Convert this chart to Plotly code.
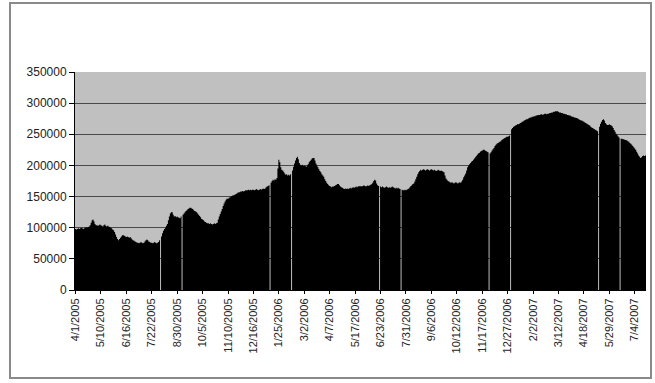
import plotly.graph_objects as go

# Tick labels (every 26th trading day)
tick_labels = ["4/1/2005", "5/10/2005", "6/16/2005", "7/22/2005", "8/30/2005",
               "10/5/2005", "11/10/2005", "12/16/2005", "1/25/2006", "3/2/2006",
               "4/7/2006", "5/17/2006", "6/23/2006", "7/31/2006", "9/6/2006",
               "10/12/2006", "11/17/2006", "12/27/2006", "2/2/2007", "3/12/2007",
               "4/18/2007", "5/29/2007", "7/4/2007"]
label_step = 26

# Daily values, in thousands (one row per label interval)
values_k = [
    98, 97, 98, 99, 98, 99, 100, 99, 98, 99, 100, 101, 100, 101, 102, 104, 108, 112, 113, 110, 106, 104, 104, 103, 104, 105,
    104, 103, 102, 104, 105, 103, 102, 103, 102, 101, 100, 99, 97, 96, 93, 89, 85, 82, 80, 82, 84, 86, 88, 88, 87, 86,
    85, 86, 85, 84, 85, 83, 81, 80, 79, 78, 77, 76, 76, 75, 76, 77, 76, 75, 76, 78, 80, 81, 80, 78, 77, 76,
    76, 75, 76, 77, 76, 75, 76, 77, 80, 0, 86, 91, 95, 98, 100, 103, 106, 112, 118, 123, 125, 125, 121, 118, 119, 117,
    118, 117, 116, 115, 118, 0, 121, 123, 125, 127, 128, 130, 131, 132, 132, 131, 130, 128, 127, 126, 125, 123, 121, 119, 117, 114,
    113, 112, 110, 109, 108, 107, 107, 106, 107, 106, 105, 106, 107, 106, 107, 108, 113, 118, 122, 126, 130, 135, 139, 142, 145, 147,
    146, 148, 149, 150, 151, 152, 152, 153, 154, 155, 156, 157, 157, 158, 158, 159, 158, 159, 160, 160, 160, 161, 160, 161, 160, 161,
    161, 160, 161, 162, 161, 160, 161, 162, 161, 162, 163, 162, 163, 165, 166, 167, 168, 0, 172, 175, 177, 176, 178, 177, 180, 195,
    209, 205, 197, 193, 192, 190, 187, 185, 186, 184, 185, 184, 186, 0, 192, 198, 203, 208, 212, 214, 210, 204, 201, 200, 201, 199,
    200, 199, 198, 200, 202, 205, 207, 209, 211, 212, 212, 208, 203, 200, 197, 194, 191, 189, 186, 184, 182, 178, 175, 172, 170, 168,
    167, 166, 165, 166, 166, 167, 168, 169, 170, 170, 168, 166, 165, 164, 163, 162, 163, 162, 163, 162, 163, 164, 163, 164, 165, 164,
    165, 166, 165, 166, 167, 166, 167, 166, 167, 168, 167, 166, 167, 168, 167, 168, 169, 170, 172, 175, 177, 176, 171, 168, 167, 0,
    166, 165, 166, 165, 164, 165, 166, 165, 164, 165, 164, 165, 166, 165, 164, 163, 164, 163, 164, 163, 162, 0, 161, 160, 160, 161,
    160, 161, 162, 163, 165, 167, 168, 170, 171, 174, 178, 182, 186, 189, 191, 193, 192, 193, 194, 193, 192, 193, 194, 193, 192, 193,
    194, 193, 192, 193, 192, 191, 192, 193, 192, 191, 192, 191, 190, 189, 184, 179, 177, 175, 174, 173, 172, 173, 172, 171, 172, 173,
    172, 171, 172, 173, 172, 174, 177, 181, 184, 187, 192, 197, 200, 202, 204, 206, 207, 209, 211, 213, 215, 217, 219, 220, 222, 223,
    224, 225, 225, 224, 223, 222, 221, 0, 219, 221, 224, 226, 228, 231, 233, 235, 236, 237, 238, 239, 241, 242, 243, 244, 245, 246,
    246, 247, 248, 0, 258, 260, 262, 263, 264, 265, 266, 266, 267, 268, 269, 270, 271, 272, 273, 274, 274, 275, 276, 277, 277, 278,
    278, 279, 279, 280, 280, 281, 281, 281, 282, 282, 281, 282, 283, 283, 282, 283, 283, 284, 284, 285, 285, 286, 286, 287, 287, 287,
    286, 285, 285, 284, 284, 283, 283, 282, 282, 281, 281, 280, 280, 279, 278, 278, 277, 277, 276, 276, 275, 274, 273, 272, 272, 271,
    270, 269, 268, 267, 266, 265, 264, 262, 261, 260, 259, 258, 257, 256, 255, 0, 262, 267, 270, 273, 274, 272, 268, 266, 265, 265,
    266, 265, 264, 263, 260, 257, 254, 251, 249, 247, 245, 0, 243, 243, 242, 242, 241, 241, 240, 239, 238, 236, 235, 233, 231, 229,
    227, 225, 222, 219, 216, 214, 212, 213, 215, 216, 215, 216,
]
values = [v * 1000 for v in values_k]
n = len(values)
tick_vals = [i * label_step for i in range(len(tick_labels))]

# Each daily column is drawn as a step occupying its own category slot [i-0.5, i+0.5)
step_x = [i - 0.5 for i in range(n)] + [n - 0.5]
step_y = values + [values[-1]]

fig = go.Figure(go.Scatter(x=step_x, y=step_y, mode="lines", line=dict(shape="hv", width=0, color="black"),
                           fill="tozeroy", fillcolor="black", hoverinfo="skip"))

# chart-area border (paper coordinates relative to plot area)
L, R, T, B = 75, 9, 72, 93
W, H = 655, 383
pw, ph = W - L - R, H - T - B
def px(xp): return (xp - L) / pw
def py(yp): return (H - B - yp) / ph

fig.add_shape(type="rect", xref="paper", yref="paper",
              x0=px(10), x1=px(651), y0=py(378), y1=py(3),
              line=dict(color="#8a8a8a", width=2), layer="below")

fig.update_layout(
    width=W, height=H,
    margin=dict(l=L, r=R, t=T, b=B),
    paper_bgcolor="white", plot_bgcolor="#c0c0c0",
    showlegend=False,
    font=dict(family="Liberation Sans, Arial, sans-serif", size=11, color="#222"),
)
fig.update_xaxes(range=[-0.5, n - 0.5], tickmode="array",
                 tickvals=tick_vals, ticktext=tick_labels, tickangle=-90,
                 ticks="outside", ticklen=3, tickcolor="#000",
                 showgrid=False, showline=True, linecolor="#000", linewidth=1,
                 zeroline=False, tickfont=dict(size=11))
fig.update_yaxes(range=[0, 350000], dtick=50000, tickformat="d",
                 ticks="outside", ticklen=5, tickcolor="#000",
                 showgrid=True, gridcolor="#4a4a4a", gridwidth=1,
                 showline=True, linecolor="#000", linewidth=1,
                 zeroline=False, tickfont=dict(size=12))

fig.write_html("out.html")
